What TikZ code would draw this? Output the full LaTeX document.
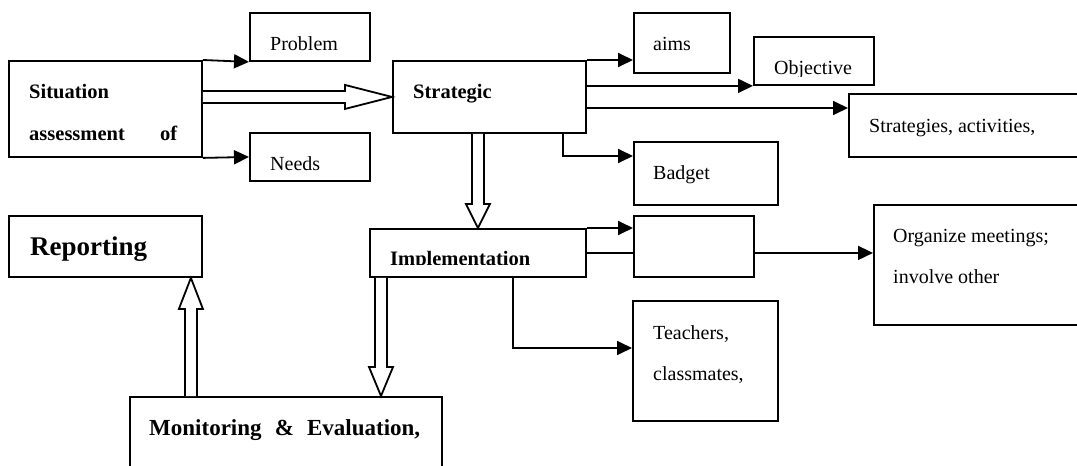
\documentclass[tikz,border=0pt]{standalone}
\usepackage{fontspec}
\setmainfont{Liberation Serif}
\usetikzlibrary{calc,arrows.meta}
\begin{document}
\begin{tikzpicture}[x=1pt,y=-1pt,
  box/.style={draw, line width=1.9pt, inner sep=0pt, fill=white, anchor=north west},
  txt/.style={anchor=base west, inner sep=0pt, font=\fontsize{20}{24}\selectfont},
  btxt/.style={anchor=base west, inner sep=0pt, font=\bfseries\fontsize{20.5}{24}\selectfont},
  conn/.style={line width=1.8pt, -{Triangle[length=15pt,width=14pt]}},
  plainln/.style={line width=1.8pt},
  blk/.style={line width=1.8pt, fill=white, line join=miter}]
\useasboundingbox (0,0) rectangle (1077,466);
\clip (0,0) rectangle (1077,466);

% boxes
\node[box, minimum width=193pt, minimum height=96pt] (sit) at (8,60) {};
\node[box, minimum width=120pt, minimum height=48pt] (prob) at (249,12) {};
\node[box, minimum width=120pt, minimum height=48pt] (needs) at (249,132) {};
\node[box, minimum width=193pt, minimum height=72pt] (strat) at (392,60) {};
\node[box, minimum width=96pt, minimum height=60pt] (aims) at (633,12) {};
\node[box, minimum width=120pt, minimum height=48pt] (obj) at (753,36) {};
\node[box, minimum width=260pt, minimum height=63pt] (strs) at (848,93) {};
\node[box, minimum width=144pt, minimum height=63pt] (badg) at (633,141) {};
\node[box, minimum width=120pt, minimum height=61pt] (empt) at (633,215) {};
\node[box, minimum width=230pt, minimum height=120pt] (org) at (873,204) {};
\node[box, minimum width=216pt, minimum height=48pt] (impl) at (369,228) {};
\node[box, minimum width=193pt, minimum height=61pt] (rep) at (8,215) {};
\node[box, minimum width=312pt, minimum height=100pt] (mon) at (129,396) {};
\node[box, minimum width=145pt, minimum height=120pt] (teach) at (632,300) {};

% texts
\node[btxt] (sitA) at (29,98) {Situation};
\node[btxt] (sitB) at (29,140) {\hbox to 148pt{assessment\hfill of}};
\node[txt] (probt) at (270,50) {Problem};
\node[txt] (needst) at (270,170) {Needs};
\node[btxt] (stratt) at (413,98) {Strategic};
\node[txt] (aimst) at (653,50) {aims};
\begin{scope}
  \clip (753,36) rectangle (873,76);
  \node[txt] (objt) at (774,74) {Objective};
\end{scope}
\node[txt] (strst) at (869,132) {Strategies, activities,};
\node[txt] (badgt) at (653,179) {Badget};
\begin{scope}
  \clip (369,228) rectangle (585,264);
  \node[btxt] (implt) at (390,265) {Implementation};
\end{scope}
\node[anchor=base west, inner sep=0pt, font=\bfseries\fontsize{27}{30}\selectfont] (rept) at (30,255) {Reporting};
\node[anchor=base west, inner sep=0pt, font=\bfseries\fontsize{23}{26}\selectfont] (mont) at (149,435) {\hbox to 271pt{Monitoring\hfill\&\hfill Evaluation,}};
\node[txt] (teachA) at (653,339) {Teachers,};
\node[txt] (teachB) at (653,380) {classmates,};
\node[txt] (orgA) at (893,242) {Organize meetings;};
\node[txt] (orgB) at (893,283) {involve other};

% simple connectors
\draw[conn] (sit.north east) -- (prob.south west);
\draw[conn] (sit.south east) -- (needs.west);
\draw[conn] (strat.north east) -- (strat.north east -| aims.west);
\draw[conn] (obj.south west -| strat.east) -- (obj.south west);
\coordinate (s3) at ($(strat.north east)+(0,48)$);
\draw[conn] (s3) -- (s3 -| strs.west);
\coordinate (s4) at ($(strat.south east)+(-24,0)$);
\coordinate (b4) at ($(badg.north west)+(0,15)$);
\draw[conn] (s4) |- (b4);
\draw[conn] (impl.north east) -- (impl.north east -| empt.west);
\draw[plainln] (impl.east) -- (impl.east -| empt.west);
\draw[conn] (impl.east -| empt.east) -- (impl.east -| org.west);
\coordinate (i5) at ($(impl.south west)+(144,0)$);
\coordinate (t5) at ($(teach.north west)+(0,48)$);
\draw[conn] (i5) |- (t5);

% block arrows
\coordinate (T1) at (strat.west);
\coordinate (S1) at (sit.east |- strat.west);
\draw[blk] ($(S1)+(0,-6)$) -- ($(T1)+(-47,-6)$) -- ($(T1)+(-47,-12)$) -- (T1)
  -- ($(T1)+(-47,12)$) -- ($(T1)+(-47,6)$) -- ($(S1)+(0,6)$);

\coordinate (T2) at (impl.north);
\coordinate (S2) at (impl.north |- strat.south);
\draw[blk] ($(S2)+(-6,0)$) -- ($(T2)+(-6,-24)$) -- ($(T2)+(-12,-24)$) -- (T2)
  -- ($(T2)+(12,-24)$) -- ($(T2)+(6,-24)$) -- ($(S2)+(6,0)$);

\coordinate (S3) at ($(impl.south west)+(12,0)$);
\coordinate (T3) at (S3 |- mon.north);
\draw[blk] ($(S3)+(-6,0)$) -- ($(T3)+(-6,-29)$) -- ($(T3)+(-12,-29)$) -- (T3)
  -- ($(T3)+(12,-29)$) -- ($(T3)+(6,-29)$) -- ($(S3)+(6,0)$);

\coordinate (T4) at ($(rep.south east)+(-12,0)$);
\coordinate (S4) at (T4 |- mon.north);
\draw[blk] ($(S4)+(-6,0)$) -- ($(T4)+(-6,31)$) -- ($(T4)+(-12,31)$) -- (T4)
  -- ($(T4)+(12,31)$) -- ($(T4)+(6,31)$) -- ($(S4)+(6,0)$);
\end{tikzpicture}
\end{document}
